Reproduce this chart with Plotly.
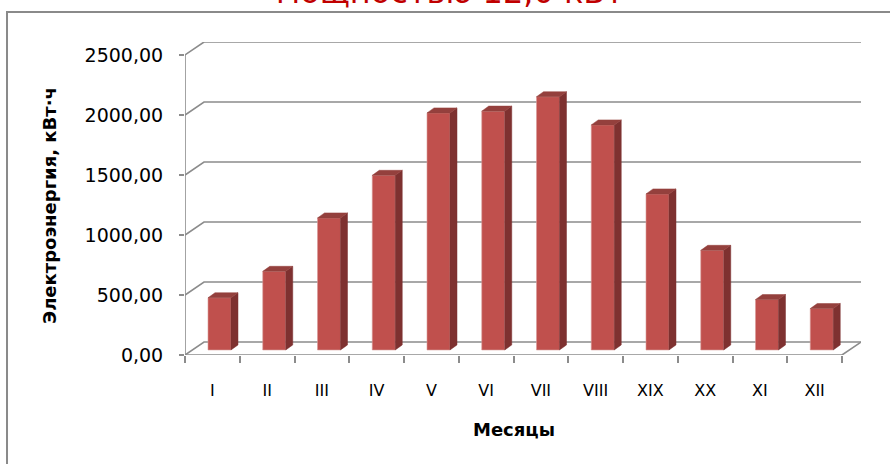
import plotly.graph_objects as go

# ---- data ----
months = ["I", "II", "III", "IV", "V", "VI", "VII", "VIII", "XIX", "XX", "XI", "XII"]
energy = [435, 655, 1100, 1455, 1975, 1990, 2110, 1875, 1300, 830, 420, 345]
y_ticks = [0, 500, 1000, 1500, 2000, 2500]
y_tick_text = ["0,00", "500,00", "1000,00", "1500,00", "2000,00", "2500,00"]
title_text = "мощностью 12,0 кВт"
y_title = "Электроэнергия, кВт·ч"
x_title = "Месяцы"

# ---- pseudo-3D geometry (axis units) ----
n = len(months)
X0, X1 = -0.5, n - 0.5
DEPTH_X, DEPTH_Y = 0.347, 108.0          # back wall offset
X_RANGE = [X0, X1 + DEPTH_X]
Y_RANGE = [0, y_ticks[-1] + DEPTH_Y]
BAR_SHIFT_X, BAR_SHIFT_Y = 0.13, 42.0     # bar front face position inside depth
BAR_W = 0.42
BAR_DX, BAR_DY = 0.128, 42.0              # bar depth

GRID = "#8C8C8C"
FRONT = "#C0504D"
SIDE = "#7E3130"
TOP = "#94403D"

fig = go.Figure()

# front faces
xs = [i + BAR_SHIFT_X for i in range(n)]
fig.add_trace(go.Bar(
    x=xs, y=energy, base=[BAR_SHIFT_Y] * n, width=BAR_W,
    marker=dict(color=FRONT, line=dict(color="#D99A98", width=0.6)),
    hoverinfo="skip", showlegend=False, xaxis="x", yaxis="y"))

# side and top faces
sx, sy = [], []
tx, ty = [], []
for x, v in zip(xs, energy):
    xl, xr = x - BAR_W / 2, x + BAR_W / 2
    b, t = BAR_SHIFT_Y, BAR_SHIFT_Y + v
    sx += [xr, xr + BAR_DX, xr + BAR_DX, xr, xr, None]
    sy += [b, b + BAR_DY, t + BAR_DY, t, b, None]
    tx += [xl, xl + BAR_DX, xr + BAR_DX, xr, xl, None]
    ty += [t, t + BAR_DY, t + BAR_DY, t, t, None]
fig.add_trace(go.Scatter(x=sx, y=sy, fill="toself", fillcolor=SIDE, mode="lines",
                         line=dict(color=SIDE, width=0.5), hoverinfo="skip",
                         showlegend=False, xaxis="x", yaxis="y"))
fig.add_trace(go.Scatter(x=tx, y=ty, fill="toself", fillcolor=TOP, mode="lines",
                         line=dict(color=TOP, width=0.5), hoverinfo="skip",
                         showlegend=False, xaxis="x2", yaxis="y"))

shapes = []
# gridlines: side wall diagonal + back wall horizontal
for v in y_ticks:
    shapes.append(dict(type="path", xref="x", yref="y", layer="below",
                       path=f"M {X0},{v} L {X0 + DEPTH_X},{v + DEPTH_Y} L {X1 + DEPTH_X},{v + DEPTH_Y}",
                       line=dict(color=GRID, width=1.6)))
# front vertical axis line
shapes.append(dict(type="line", xref="x", yref="y", layer="below",
                   x0=X0, x1=X0, y0=0, y1=y_ticks[-1], line=dict(color=GRID, width=1.6)))
# floor front edge + right diagonal
shapes.append(dict(type="path", xref="x", yref="y", layer="below",
                   path=f"M {X0},0 L {X1},0 L {X1 + DEPTH_X},{DEPTH_Y}",
                   line=dict(color=GRID, width=1.6)))
# chart frame
shapes.append(dict(type="rect", xref="paper", yref="paper",
                   x0=-0.2633, x1=1.2, y0=-0.6, y1=1.0958,
                   line=dict(color="#8A8A8A", width=2), layer="below"))

annotations = [
    dict(text=y_title, textangle=-90, xref="paper", yref="paper",
         x=-0.2012, y=0.479, xanchor="center", yanchor="middle", showarrow=False,
         font=dict(family="DejaVu Sans", size=18, color="#000000", weight="bold")),
    dict(text=x_title, xref="x", yref="paper", x=(X0 + X1) / 2, y=-0.2396,
         xanchor="center", yanchor="middle", showarrow=False,
         font=dict(family="DejaVu Sans", size=18, color="#000000", weight="bold")),
    dict(text=title_text, xref="paper", yref="paper", x=(450 - 185) / 676, y=1.092,
         xanchor="center", yanchor="bottom", showarrow=False,
         font=dict(family="DejaVu Sans", size=32, color="#C00000")),
]

fig.update_layout(
    width=890, height=464,
    margin=dict(l=185, r=29, t=42, b=109),
    paper_bgcolor="white", plot_bgcolor="white",
    shapes=shapes, annotations=annotations,
    showlegend=False,
    xaxis=dict(range=X_RANGE, tickvals=list(range(n)), ticktext=months,
               showgrid=False, zeroline=False, showline=False,
               ticks="", ticklabelstandoff=24,
               tickfont=dict(family="DejaVu Sans", size=16, color="#000000")),
    xaxis2=dict(range=X_RANGE, overlaying="x", anchor="y", side="bottom",
                tickvals=[i - 0.5 for i in range(n + 1)], showticklabels=False,
                ticks="outside", ticklen=7, tickwidth=1.6, tickcolor=GRID,
                showgrid=False, zeroline=False, showline=False),
    yaxis=dict(range=Y_RANGE, tickvals=y_ticks, ticktext=y_tick_text,
               showgrid=False, zeroline=False, showline=False,
               ticks="outside", ticklen=5, tickwidth=1.6, tickcolor=GRID,
               ticklabelstandoff=12,
               tickfont=dict(family="DejaVu Sans", size=19, color="#000000")),
)

fig.write_html("out.html", config={"displayModeBar": False},
               post_script="document.body.style.margin='0';document.body.style.overflow='hidden';")
